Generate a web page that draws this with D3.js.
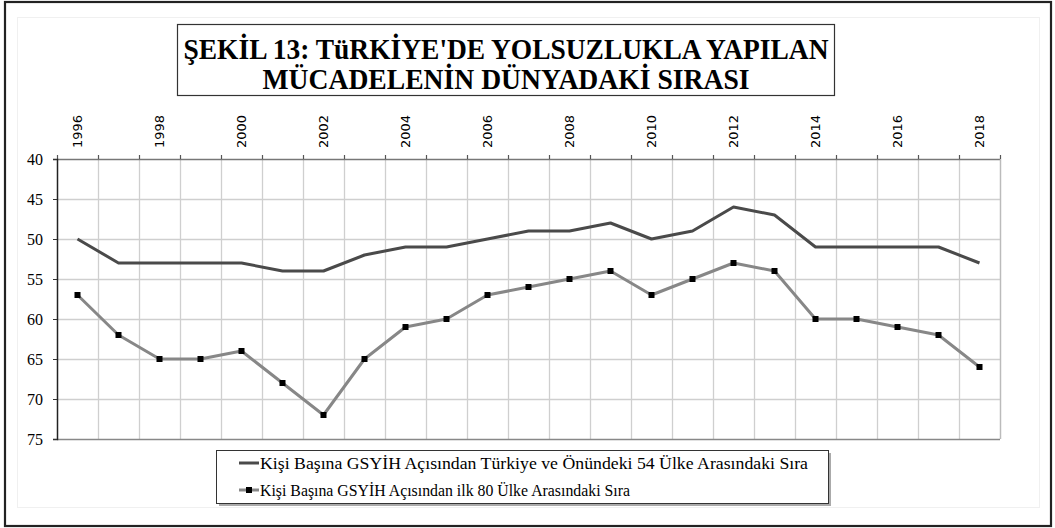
<!DOCTYPE html>
<html><head><meta charset="utf-8">
<script src="https://cdn.jsdelivr.net/npm/d3@7"></script>
<style>body{margin:0;background:#fff}svg{display:block}</style>
</head><body>
<svg id="c" width="1055" height="528"></svg>
<script>
const years = ["1996","1997","1998","1999","2000","2001","2002","2003","2004","2005","2006","2007","2008","2009","2010","2011","2012","2013","2014","2015","2016","2017","2018"];
const seriesTop54 = [50,53,53,53,53,54,54,52,51,51,50,49,49,48,50,49,46,47,51,51,51,51,53];
const seriesTop80 = [57,62,65,65,64,68,72,65,61,60,57,56,55,54,57,55,53,54,60,60,61,62,66];
const yTicks = [40,45,50,55,60,65,70,75];
const titleLines = ["ŞEKİL 13: TüRKİYE'DE YOLSUZLUKLA YAPILAN","MÜCADELENİN DÜNYADAKİ SIRASI"];
const legendLabels = ["Kişi Başına GSYİH Açısından Türkiye ve Önündeki 54 Ülke Arasındaki Sıra","Kişi Başına GSYİH Açısından ilk 80 Ülke Arasındaki Sıra"];

const svg = d3.select("#c");
const L=57, R=1000, T=159, B=439;
const x = d3.scaleBand().domain(years).range([L,R]).padding(0);
const y = d3.scaleLinear().domain([40,75]).range([T,B]);
const serif = "'Liberation Serif','Times New Roman',serif";

// outer frame
svg.append("rect").attr("x",5).attr("y",2).attr("width",1046).attr("height",524)
  .attr("fill","#fff").attr("stroke","#222").attr("stroke-width",2.2);
svg.append("rect").attr("x",17.5).attr("y",17.5).attr("width",1022).attr("height",490)
  .attr("fill","none").attr("stroke","#f0f0f0").attr("stroke-width",1);

// title box
svg.append("rect").attr("x",177.5).attr("y",24.5).attr("width",657).attr("height",71)
  .attr("fill","#fff").attr("stroke","#333").attr("stroke-width",1.2);
const titleW = [645, 487];
svg.selectAll("text.title").data(titleLines).join("text").attr("class","title")
  .attr("x",506).attr("y",(d,i)=>58.5+i*30).attr("text-anchor","middle")
  .attr("font-family",serif).attr("font-weight","bold")
  .attr("font-size",29).attr("fill","#000")
  .attr("textLength",(d,i)=>titleW[i]).attr("lengthAdjust","spacingAndGlyphs").text(d=>d);

// grid
const bounds = years.map(d=>x(d)).concat([R]);
svg.append("g").selectAll("line").data(bounds.slice(1)).join("line")
  .attr("x1",d=>Math.round(d)+0.5).attr("x2",d=>Math.round(d)+0.5).attr("y1",T).attr("y2",B)
  .attr("stroke","#cfcfcf").attr("stroke-width",1.3);
svg.append("g").selectAll("line").data(yTicks.slice(1,-1)).join("line")
  .attr("x1",L).attr("x2",R).attr("y1",d=>y(d)+0.5).attr("y2",d=>y(d)+0.5)
  .attr("stroke","#cfcfcf").attr("stroke-width",1.3);

// top axis
const xAxis = d3.axisTop(x).tickSize(0).tickFormat((d,i)=>i%2===0?d:"");
const gx = svg.append("g").attr("transform",`translate(0,${T})`).call(xAxis);
gx.select(".domain").remove();
gx.selectAll("text").attr("transform","rotate(-90)").attr("text-anchor","start")
  .attr("x",11).attr("y",0).attr("dy","0.35em")
  .attr("font-family","'DejaVu Sans',Verdana,sans-serif").attr("font-size",13).attr("fill","#000");
svg.append("line").attr("x1",L).attr("x2",R).attr("y1",T+0.5).attr("y2",T+0.5).attr("stroke","#777").attr("stroke-width",1.3);
svg.append("g").selectAll("line").data(bounds).join("line")
  .attr("x1",d=>Math.round(d)+0.5).attr("x2",d=>Math.round(d)+0.5).attr("y1",T-4).attr("y2",T)
  .attr("stroke","#555").attr("stroke-width",1.2);
svg.append("line").attr("x1",R+0.5).attr("x2",R+0.5).attr("y1",T).attr("y2",B).attr("stroke","#bbb").attr("stroke-width",1.3);
svg.append("line").attr("x1",L).attr("x2",R).attr("y1",B+0.5).attr("y2",B+0.5).attr("stroke","#888").attr("stroke-width",1.3);

// left axis
const yAxis = d3.axisLeft(y).tickValues(yTicks).tickSize(4).tickPadding(10);
const gy = svg.append("g").attr("transform",`translate(${L},0)`).call(yAxis);
gy.select(".domain").attr("stroke","#222").attr("stroke-width",1.5);
gy.selectAll(".tick line").attr("stroke","#333");
gy.selectAll("text").attr("font-family",serif).attr("font-size",16).attr("fill","#000");

// lines
const line = d3.line().x((d,i)=>x(years[i])+x.bandwidth()/2).y(d=>y(d));
svg.append("path").datum(seriesTop54).attr("d",line).attr("fill","none")
  .attr("stroke","#4a4a4a").attr("stroke-width",3).attr("stroke-linejoin","round");
svg.append("path").datum(seriesTop80).attr("d",line).attr("fill","none")
  .attr("stroke","#878787").attr("stroke-width",3).attr("stroke-linejoin","round");
svg.append("g").selectAll("rect").data(seriesTop80).join("rect")
  .attr("x",(d,i)=>x(years[i])+x.bandwidth()/2-3).attr("y",d=>y(d)-3)
  .attr("width",6).attr("height",6).attr("fill","#000");

// legend
svg.append("rect").attr("x",219).attr("y",453).attr("width",612).attr("height",53).attr("fill","#aaa");
svg.append("rect").attr("x",216.5).attr("y",450.5).attr("width",612).attr("height",53)
  .attr("fill","#fff").attr("stroke","#333").attr("stroke-width",1);
const lg = svg.append("g");
const legW = [548, 370];
[["#4a4a4a",false],["#878787",true]].forEach((s,i)=>{
  const yy = 463 + i*27;
  lg.append("line").attr("x1",239).attr("x2",259).attr("y1",yy).attr("y2",yy).attr("stroke",s[0]).attr("stroke-width",3);
  if(s[1]) lg.append("rect").attr("x",246).attr("y",yy-3).attr("width",6).attr("height",6).attr("fill","#000");
  lg.append("text").attr("x",260).attr("y",yy+5.5).attr("font-family",serif)
    .attr("font-size",17).attr("fill","#000")
    .attr("textLength",legW[i]).attr("lengthAdjust","spacingAndGlyphs").text(legendLabels[i]);
});
</script>
</body></html>
